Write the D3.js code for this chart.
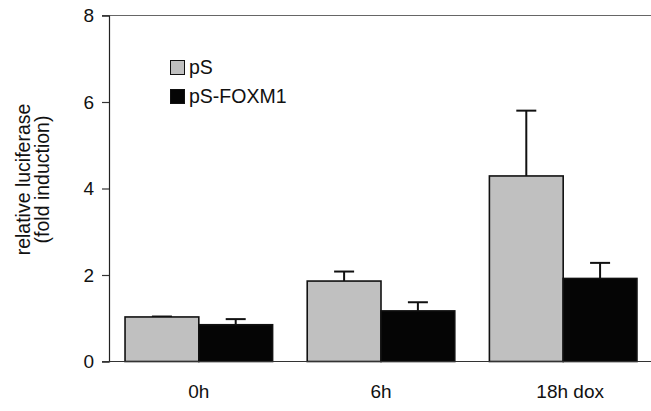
<!DOCTYPE html>
<html>
<head>
<meta charset="utf-8">
<script src="https://cdn.jsdelivr.net/npm/d3@7"></script>
<style>
  html, body { margin: 0; padding: 0; background: #fff; }
  svg { display: block; }
  text { font-family: "Liberation Sans", Arial, Helvetica, sans-serif; fill: #111; }
</style>
</head>
<body>
<svg id="chart" width="651" height="411"></svg>
<script>
// ---- data ----
const categories = ["0h", "6h", "18h dox"];
const seriesNames = ["pS", "pS-FOXM1"];
const pS = [1.03, 1.86, 4.29];
const pSErr = [0.01, 0.22, 1.51];
const pSFOXM1 = [0.85, 1.17, 1.92];
const pSFOXM1Err = [0.13, 0.20, 0.36];
const yTicks = [0, 2, 4, 6, 8];

const seriesValues = [pS, pSFOXM1];
const seriesErrors = [pSErr, pSFOXM1Err];
const fills = ["#c0c0c0", "#050505"];

const svg = d3.select("#chart");
const W = 651, H = 411;
const mLeft = 109, mTop = 15.5, mBottom = 361.5;

const y = d3.scaleLinear().domain([0, 8]).range([mBottom, mTop]);
const x0 = d3.scaleBand().domain(categories).range([mLeft, 653])
  .paddingInner(0.19).paddingOuter(0.088);
const x1 = d3.scaleBand().domain(seriesNames).range([0, x0.bandwidth()]).padding(0);

const rows = [];
categories.forEach((c, i) => {
  seriesNames.forEach((s, j) => {
    rows.push({cat: c, series: s, j, value: seriesValues[j][i], err: seriesErrors[j][i]});
  });
});

// top frame line
svg.append("line")
  .attr("x1", mLeft - 7).attr("x2", W).attr("y1", y(8)).attr("y2", y(8))
  .attr("stroke", "#666").attr("stroke-width", 1.2);

// error bars (drawn before bars so lower half is hidden)
const eb = svg.append("g");
rows.forEach(d => {
  const cx = x0(d.cat) + x1(d.series) + x1.bandwidth() / 2;
  eb.append("line")
    .attr("x1", cx).attr("x2", cx)
    .attr("y1", y(d.value)).attr("y2", y(d.value + d.err))
    .attr("stroke", "#111").attr("stroke-width", 2);
  eb.append("line")
    .attr("x1", cx - 10).attr("x2", cx + 10)
    .attr("y1", y(d.value + d.err)).attr("y2", y(d.value + d.err))
    .attr("stroke", "#111").attr("stroke-width", 2);
});

// bars
svg.append("g").selectAll("rect").data(rows).join("rect")
  .attr("x", d => x0(d.cat) + x1(d.series))
  .attr("y", d => y(d.value))
  .attr("width", x1.bandwidth())
  .attr("height", d => y(0) - y(d.value))
  .attr("fill", d => fills[d.j])
  .attr("stroke", "#111")
  .attr("stroke-width", 1.6);

// y axis
const yAxis = svg.append("g")
  .attr("transform", `translate(${mLeft},0)`)
  .call(d3.axisLeft(y).tickValues(yTicks).tickFormat(d3.format("d")).tickSize(7).tickPadding(8));
yAxis.select(".domain").attr("stroke", "#222").attr("stroke-width", 1.2);
yAxis.selectAll(".tick line").attr("stroke", "#333").attr("stroke-width", 1.2);
yAxis.selectAll(".tick text").style("font-size", "19px").attr("fill", "#111");

// x axis
const xAxis = svg.append("g")
  .attr("transform", `translate(0,${mBottom})`)
  .call(d3.axisBottom(x0).tickSize(0).tickPadding(23));
xAxis.select(".domain").attr("d", `M${mLeft - 7},0H${W}`).attr("stroke", "#333").attr("stroke-width", 1.2);
xAxis.selectAll(".tick text").style("font-size", "19px").attr("fill", "#111")
  .attr("dx", d => d === "18h dox" ? 7 : 0);

// y title
const yt = svg.append("text")
  .attr("transform", "translate(30,179.5) rotate(-90)")
  .attr("text-anchor", "middle")
  .style("font-size", "19.5px");
yt.append("tspan").attr("x", 0).attr("y", 0).text("relative luciferase");
yt.append("tspan").attr("x", 0).attr("y", 19).text("(fold induction)");

// legend
const legend = svg.append("g");
seriesNames.forEach((s, j) => {
  const ly = 60.5 + j * 29;
  legend.append("rect")
    .attr("x", 170.5).attr("y", ly).attr("width", 14).attr("height", 14)
    .attr("fill", fills[j]).attr("stroke", "#111").attr("stroke-width", 1);
  legend.append("text")
    .attr("x", 189).attr("y", ly + 13.8)
    .style("font-size", "19.5px")
    .text(s);
});
</script>
</body>
</html>
